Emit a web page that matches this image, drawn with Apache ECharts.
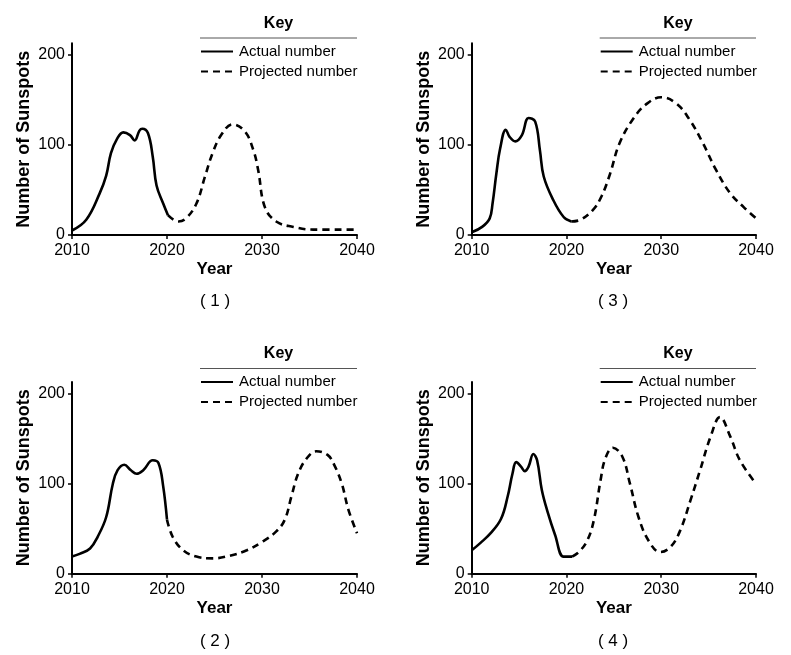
<!DOCTYPE html>
<html>
<head>
<meta charset="utf-8">
<script src="https://cdn.jsdelivr.net/npm/echarts@6/dist/echarts.min.js"></script>
<style>html,body{margin:0;padding:0;background:#fff}#c{width:791px;height:655px}</style>
</head>
<body>
<div id="c"></div>
<script>
// ---------- DATA ----------
const panelLabels = ['( 1 )', '( 2 )', '( 3 )', '( 4 )'];
const seriesNames = ['Actual number', 'Projected number'];
const yTicks = [0, 100, 200];
const xTicks = [2010, 2020, 2030, 2040];

const actual1 = [[2010,5],[2011.5,17],[2012.9,46],[2013.6,66],[2014.1,91],[2014.7,106],[2015.4,114],[2016.1,111],[2016.6,105],[2017.1,116],[2017.4,118],[2018,113],[2018.5,87],[2018.9,55],[2019.6,35],[2020.1,22]];
const projected1 = [[2020.1,22],[2021.2,15],[2022,18.5],[2023.1,35],[2024,65],[2024.8,91],[2025.7,111],[2026.9,123],[2028.2,115],[2029.1,94],[2029.6,72],[2030.3,31],[2031.5,15],[2033.3,9],[2035.4,6],[2040,6]];

const actual2 = [[2010,19],[2010.8,22],[2011.9,28],[2012.7,41],[2013.6,63],[2014.3,100],[2014.8,115],[2015.5,121],[2016.2,115],[2016.8,111],[2017.5,115],[2018.5,126],[2019.1,123],[2019.6,97],[2020,60]];
const projected2 = [[2020,60],[2020.6,41],[2021.7,26],[2023.1,19],[2024.8,17],[2026.6,20],[2028.4,26],[2030.1,36],[2031.5,47],[2032.4,60],[2033.1,86],[2033.8,111],[2034.7,128],[2035.7,136],[2036.9,132],[2037.6,121],[2038.4,100],[2039.1,71],[2040,45]];

const actual3 = [[2010,3],[2011.1,9],[2011.9,18.5],[2012.2,35],[2012.6,68],[2013,96],[2013.6,117],[2014,109],[2014.6,104],[2015.3,111],[2016,130],[2016.7,126],[2017.2,94],[2017.6,65],[2018.6,39],[2019.7,20],[2020.5,15]];
const projected3 = [[2020.5,15],[2021.5,17],[2022.8,28],[2023.7,43],[2024.6,68],[2025.6,102],[2027.1,130],[2028.5,146],[2030,153],[2031.6,146],[2033,128],[2034.4,102],[2035.8,72],[2037.3,46],[2038.7,31],[2040,18.5]];

const actual4 = [[2010,26],[2010.9,34],[2012,45],[2013.1,61],[2013.8,86],[2014.3,111],[2014.7,124],[2015.2,119],[2015.6,114],[2016,119],[2016.5,133],[2016.9,126],[2017.4,93],[2018,69],[2018.8,43],[2019.7,19],[2020.6,19]];
const projected4 = [[2020.6,19],[2021.3,24],[2022.2,37],[2022.9,60],[2023.6,104],[2024.1,128],[2024.9,140],[2025.9,130],[2026.7,100],[2027.6,63],[2028.7,36],[2029.9,24],[2031,30],[2032,48],[2033.1,82],[2034.1,115],[2035.2,152],[2036.2,174],[2037.3,152],[2038.3,126],[2040,100]];

const actualData = [actual1, actual2, actual3, actual4];
const projectedData = [projected1, projected2, projected3, projected4];

// ---------- LAYOUT / STYLE ----------
const FONT = '"Liberation Sans", Arial, sans-serif';
const panels = [
  {left: 72,  right: 434, top: 43.3, bottom: 420,  keyY: 0,   labelX: 215, labelY: 300},
  {left: 72,  right: 434, top: 382,  bottom: 81.3, keyY: 330.5, labelX: 215, labelY: 640},
  {left: 471.7, right: 35, top: 43.3, bottom: 420, keyY: 0,   labelX: 613, labelY: 300},
  {left: 471.7, right: 35, top: 382,  bottom: 81.3, keyY: 330.5, labelX: 613, labelY: 640}
];
const W = 791;

const grid = [], xAxis = [], yAxis = [], series = [], legend = [], graphic = [], title = [];
panels.forEach((p, i) => {
  grid.push({left: p.left, right: p.right, top: p.top, bottom: p.bottom, containLabel: false});
  xAxis.push({
    type: 'value', gridIndex: i, min: 2010, max: 2040, interval: 10,
    name: 'Year', nameLocation: 'middle', nameGap: 26,
    nameTextStyle: {fontFamily: FONT, fontSize: 17, fontWeight: 'bold', color: '#000'},
    axisLine: {lineStyle: {color: '#000', width: 2}},
    axisTick: {show: true, length: 4, lineStyle: {color: '#000', width: 1.5}},
    axisLabel: {fontFamily: FONT, fontSize: 16, color: '#000', margin: 8,
                customValues: xTicks, formatter: v => String(v)},
    splitLine: {show: false}
  });
  yAxis.push({
    type: 'value', gridIndex: i, min: 0, max: 213, interval: 100,
    name: 'Number of Sunspots', nameLocation: 'middle', nameGap: 39,
    nameTextStyle: {fontFamily: FONT, fontSize: 18, fontWeight: 'bold', color: '#000'},
    axisLine: {show: true, lineStyle: {color: '#000', width: 2}},
    axisTick: {show: true, length: 4, lineStyle: {color: '#000', width: 1.5}, customValues: yTicks},
    axisLabel: {fontFamily: FONT, fontSize: 16, color: '#000', margin: 7, customValues: yTicks},
    splitLine: {show: false}
  });
  series.push({
    name: seriesNames[0], type: 'line', xAxisIndex: i, yAxisIndex: i,
    data: actualData[i], smooth: 0.4, symbol: 'none',
    lineStyle: {color: '#000', width: 2.6, type: 'solid'}, itemStyle: {color: '#000'}
  });
  series.push({
    name: seriesNames[1], type: 'line', xAxisIndex: i, yAxisIndex: i,
    data: projectedData[i], smooth: 0.4, symbol: 'none',
    lineStyle: {color: '#000', width: 2.6, type: [7, 5]}, itemStyle: {color: '#000'}
  });
  const keyLeft = p.left + 128;
  const keyRight = W - p.right;
  legend.push({
    left: keyLeft, top: p.keyY + 44, orient: 'vertical', padding: 0,
    itemWidth: 32, itemHeight: 14, itemGap: 5,
    selectedMode: false,
    data: seriesNames,
    itemStyle: {opacity: 0, borderWidth: 0},
    textStyle: {fontFamily: FONT, fontSize: 15, color: '#000', padding: [0, 0, 0, 1]}
  });
  graphic.push({
    type: 'text', x: (keyLeft + keyRight) / 2, y: p.keyY + 23.5,
    style: {text: 'Key', font: 'bold 16px ' + FONT, fill: '#000', align: 'center', verticalAlign: 'middle'}
  });
  graphic.push({
    type: 'line', shape: {x1: keyLeft, y1: p.keyY + 38, x2: keyRight, y2: p.keyY + 38},
    style: {stroke: '#555', lineWidth: 1}
  });
  title.push({
    text: panelLabels[i], left: p.labelX, top: p.labelY - 7, textAlign: 'center',
    padding: 0,
    textStyle: {fontFamily: FONT, fontSize: 17, fontWeight: 'normal', color: '#000'}
  });
});

const chart = echarts.init(document.getElementById('c'), null, {renderer: 'canvas'});
chart.setOption({
  animation: false,
  backgroundColor: '#fff',
  title, grid, xAxis, yAxis, series, legend,
  graphic: {elements: graphic}
});
</script>
</body>
</html>
